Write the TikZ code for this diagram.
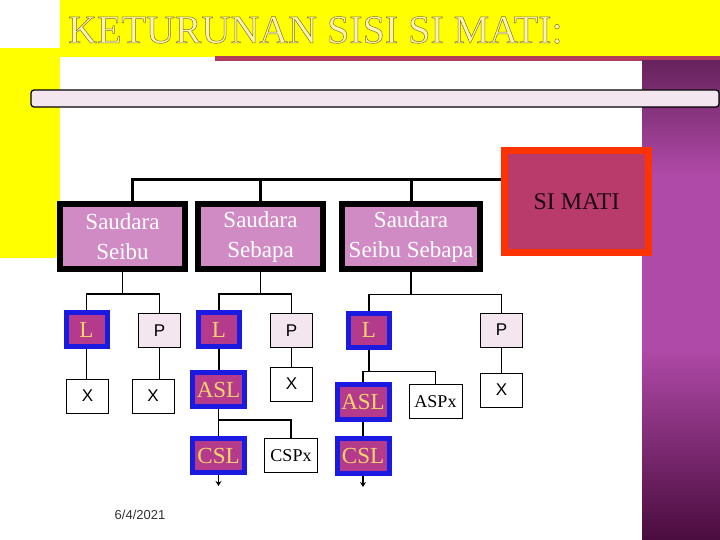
\documentclass[tikz,border=0pt]{standalone}
\usepackage{fontspec}
\setmainfont{Liberation Serif}
\setsansfont{Liberation Sans}
\usepackage{xcolor}
\usepackage{tikz}
\usetikzlibrary{arrows.meta}
\definecolor{INK}{HTML}{000000}
\definecolor{BAND}{HTML}{FFFF00}
\definecolor{CREAM}{HTML}{FFF4B8}
\definecolor{RIBBON}{HTML}{B23C5C}
\definecolor{PLUMTOP}{HTML}{67235D}
\definecolor{PLUMMID}{HTML}{B04AA8}
\definecolor{PLUMBOT}{HTML}{4A0C3E}
\definecolor{SLAB}{HTML}{F4E6EF}
\definecolor{ORCHID}{HTML}{D08BC4}
\definecolor{DEAD}{HTML}{B83B6B}
\definecolor{FLAME}{HTML}{FF3300}
\definecolor{HEIR}{HTML}{B43A8C}
\definecolor{ROYAL}{HTML}{1A1AE0}
\definecolor{GOLD}{HTML}{F7D56A}
\definecolor{STAMP}{HTML}{333333}
\pgfdeclareverticalshading{plumfade}{100bp}{color(0bp)=(PLUMBOT); color(25bp)=(PLUMBOT);
  color(45bp)=(PLUMMID); color(63bp)=(PLUMMID); color(75bp)=(PLUMTOP); color(100bp)=(PLUMTOP)}

\begin{document}
\begin{tikzpicture}[
    x=1pt, y=-1pt,
    trunk/.style={draw=INK, line width=3pt},
    twig/.style={draw=INK, line width=1.4pt},
    sibbox/.style={draw=INK, fill=ORCHID, line width=6pt, inner sep=0pt,
      minimum width=125pt, minimum height=65pt, align=center, text=white,
      font=\fontsize{23}{30}\selectfont},
    deadbox/.style={draw=FLAME, fill=DEAD, line width=7pt, inner sep=0pt,
      minimum width=144pt, minimum height=102pt, text=INK!85!DEAD,
      font=\fontsize{24}{28}\selectfont},
    heir/.style={draw=ROYAL, fill=HEIR, line width=5pt, inner sep=0pt,
      minimum width=41pt, minimum height=34pt, text=GOLD,
      font=\fontsize{23}{26}\selectfont},
    wide/.style={minimum width=52pt},
    pbox/.style={draw=INK, fill=SLAB, line width=1pt, inner sep=0pt,
      minimum width=42pt, minimum height=34pt,
      font=\sffamily\fontsize{17}{20}\selectfont},
    xbox/.style={pbox, fill=white},
    sharebox/.style={xbox, minimum width=53pt, font=\fontsize{18}{20}\selectfont},
    arrowtip/.style={twig, -{Stealth[length=5pt, width=6pt]}},
  ]

  % page
  \useasboundingbox (0,0) rectangle (720,540);
  \fill[white] (0,0) rectangle (720,540);

  % yellow title band and side strip
  \fill[BAND] (60,0) rectangle (720,57);
  \fill[BAND] (0,48) rectangle (60,258);
  \fill[RIBBON] (215,56) rectangle (720,61);
  \shade[shading=plumfade] (642,61) rectangle (720,540);
  \draw[INK, line width=1.2pt, fill=SLAB, rounded corners=3pt] (31,90) rectangle (719,107);

  \node[anchor=base west, inner sep=0pt, text=CREAM, font=\fontsize{40}{44}\selectfont]
    (title) at (68,43)
    {\special{pdf:literal q 2 Tr 0.5 w 0.5 0.46 0.12 RG}KETURUNAN SISI SI MATI:\special{pdf:literal Q}};

  % top row
  \node[sibbox] (sdSeibu) at (122.5,236.5) {Saudara\\Seibu};
  \node[sibbox] (sdSebapa) at (260.5,236.5) {Saudara\\Sebapa};
  \node[sibbox, minimum width=138pt] (sdBoth) at (411,236.5) {Saudara\\Seibu Sebapa};
  \node[deadbox] (siMati) at (576.5,201.5) {SI MATI};

  \coordinate (busL) at (132,180);
  \draw[trunk] (busL |- sdSeibu.north) -- (busL) -- (busL -| siMati.west);
  \draw[trunk] (sdSebapa.north) -- (sdSebapa.north |- busL);
  \draw[trunk] (sdBoth.north) -- (sdBoth.north |- busL);

  % seibu branch
  \node[heir] (L1) at (86.5,329.5) {L};
  \node[pbox] (P1) at (159.5,330.5) {P};
  \node[xbox] (X1) at (87.5,396) {X};
  \node[xbox] (X2) at (153,396) {X};
  \draw[twig] (sdSeibu.south) -- ++(0,22);
  \draw[twig] (L1.north) -- ++(0,-16) -| (P1.north);
  \draw[twig] (L1.south) -- (L1.south |- X1.north);
  \draw[twig] (P1.south) -- (P1.south |- X2.north);

  % sebapa branch
  \node[heir] (L2) at (219,329.5) {L};
  \node[pbox] (P2) at (291.5,330.5) {P};
  \node[heir, wide] (ASL2) at (218.5,389.5) {ASL};
  \node[xbox] (X3) at (291.5,384) {X};
  \node[heir, wide] (CSL2) at (218.5,455.5) {CSL};
  \node[sharebox] (CSPx) at (291,455.5) {CSPx};
  \draw[twig] (sdSebapa.south) -- ++(0,22);
  \draw[twig] (L2.north) -- ++(0,-16) -| (P2.north);
  \draw[twig] (L2.south) -- (L2.south |- ASL2.north);
  \draw[twig] (P2.south) -- (X3.north);
  \draw[twig] (ASL2.south) -- (CSL2.north);
  \draw[twig] (ASL2.south) -- ++(0,11) -| (CSPx.north);
  \draw[arrowtip] (CSL2.south) -- ++(0,11);

  % seibu sebapa branch
  \node[heir] (L3) at (369,330) {L};
  \node[pbox] (P3) at (501.5,330) {P};
  \node[xbox] (X4) at (501.5,390) {X};
  \node[heir, wide, minimum height=35pt] (ASL3) at (363,402) {ASL};
  \node[sharebox] (ASPx) at (435.5,401.5) {ASPx};
  \node[heir, wide, minimum height=35pt] (CSL3) at (363,456) {CSL};
  \draw[twig] (sdBoth.south) -- ++(0,22);
  \draw[twig] (L3.north) -- ++(0,-16) -| (P3.north);
  \draw[twig] (P3.south) -- (X4.north);
  \draw[twig] (L3.south) -- ++(0,22) coordinate (fork3);
  \draw[twig] (ASL3.north) |- (fork3) -| (ASPx.north);
  \draw[twig] (ASL3.south) -- (CSL3.north);
  \draw[arrowtip] (CSL3.south) -- ++(0,11);

  % date
  \node[font=\sffamily\fontsize{13}{15}\selectfont, text=STAMP] (stamp) at (140,515) {6/4/2021};

\end{tikzpicture}
\end{document}
